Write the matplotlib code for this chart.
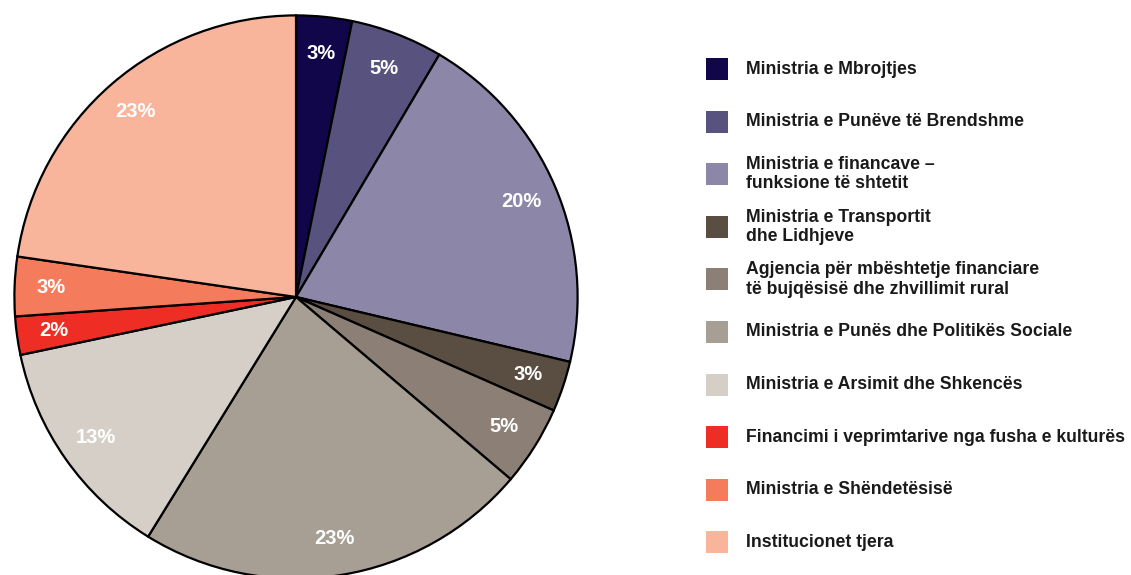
import matplotlib.pyplot as plt
from matplotlib.patches import Rectangle

# ===============================
# Data
# ===============================

labels = [
    "Ministria e Mbrojtjes",
    "Ministria e Punëve të Brendshme",
    "Ministria e financave –\nfunksione të shtetit",
    "Ministria e Transportit\ndhe Lidhjeve",
    "Agjencia për mbështetje financiare\ntë bujqësisë dhe zhvillimit rural",
    "Ministria e Punës dhe Politikës Sociale",
    "Ministria e Arsimit dhe Shkencës",
    "Financimi i veprimtarive nga fusha e kulturës",
    "Ministria e Shëndetësisë",
    "Institucionet tjera",
]
shares = [3.2, 5.3, 20.2, 2.9, 4.6, 22.6, 12.9, 2.2, 3.4, 22.7]
colors = ["#12064a", "#58527e", "#8c87a8", "#5a4d42", "#8c8076",
          "#a79e94", "#d6cfc8", "#ee2e24", "#f47b5b", "#f9b59b"]

# ===============================
# Figure
# ===============================

plt.rcParams['font.family'] = ['Liberation Sans', 'DejaVu Sans']

W, H = 1131, 575
fig = plt.figure(figsize=(W / 100, H / 100), dpi=100)

# pie centre ~ (296, 297) px, radius ~ 283 px (bottom runs off the figure)
cx, cy, r = 296, 297, 283
ax = fig.add_axes([(cx - r) / W, (H - cy - r) / H, 2 * r / W, 2 * r / H])
ax.set_axis_off()

wedges, texts, autotexts = ax.pie(
    shares, colors=colors, startangle=90, counterclock=False,
    autopct='%.0f%%', pctdistance=0.87, radius=1,
    wedgeprops=dict(edgecolor='black', linewidth=1.6),
    textprops=dict(color='white', fontsize=14.5, fontweight='bold'),
    frame=False,
)
ax.set_aspect('equal')
ax.set_xlim(-1.005, 1.005)
ax.set_ylim(-1.005, 1.005)

# ===============================
# Legend (drawn by hand for even spacing)
# ===============================

y0, step = 69, 52.6
for i, (lab, col) in enumerate(zip(labels, colors)):
    yc = y0 + i * step
    fig.patches.append(Rectangle((706 / W, (H - yc - 11) / H), 22 / W, 22 / H,
                                 transform=fig.transFigure, facecolor=col,
                                 edgecolor='none'))
    fig.text(746 / W, (H - yc) / H, lab, ha='left', va='center',
             fontsize=12.7, fontweight='bold', color='#1a1a1a', linespacing=1.2)

fig.savefig("out.png", dpi=100)
